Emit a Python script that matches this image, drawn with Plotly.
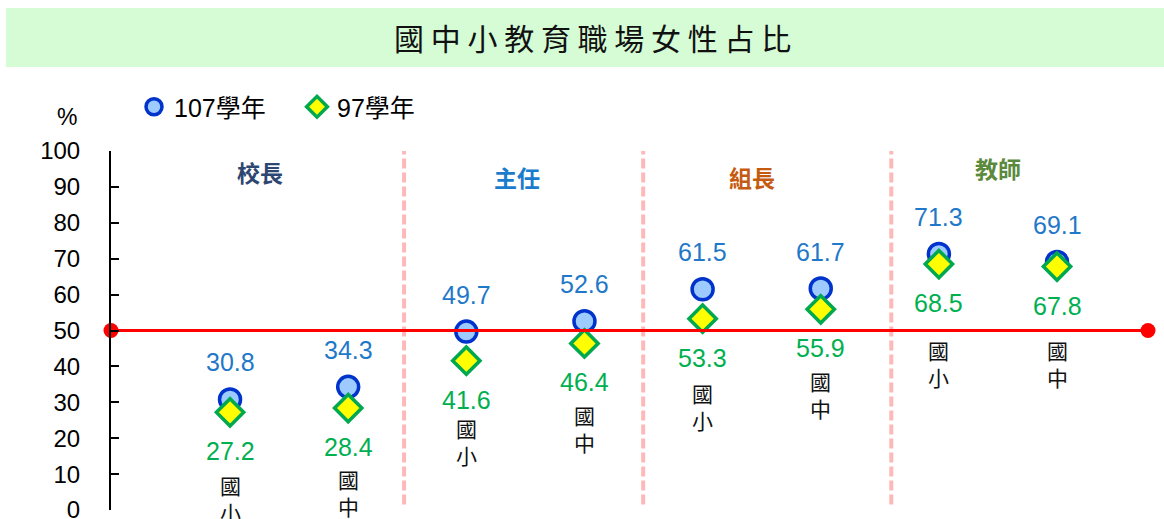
import plotly.graph_objects as go

# ---------------- data ----------------
groups = ["校長", "主任", "組長", "教師"]
levels = ["國小", "國中", "國小", "國中", "國小", "國中", "國小", "國中"]
y107 = [30.8, 34.3, 49.7, 52.6, 61.5, 61.7, 71.3, 69.1]
y97 = [27.2, 28.4, 41.6, 46.4, 53.3, 55.9, 68.5, 67.8]
series_names = ["107學年", "97學年"]
threshold = 50
yticks = [0, 10, 20, 30, 40, 50, 60, 70, 80, 90, 100]
title_text = "國中小教育職場女性占比"

# ---------------- styling / layout ----------------
W, H = 1164, 519
ML, MR, MT, MB = 111, 16, 151, 9
FONT = "Arial, 'Liberation Sans', 'Noto Sans CJK TC', sans-serif"
CJK = "'Noto Sans CJK TC', 'Noto Sans CJK SC', sans-serif"
BLUE_TXT = "#1f78c8"
GREEN_TXT = "#00b050"
XMIN, XMAX = -1.0076, 7.77

group_colors = ["#2e4672", "#1b7ccc", "#c55a11", "#5b8a3c"]
group_pos = [(0.254, 94.1), (2.431, 92.8), (4.42, 92.8), (6.5, 95.3)]
separators = [1.473, 3.497, 5.597]
cat_shift = [-86, -84, -81, -85, -88, -85, -99, -97]

x = list(range(len(levels)))

fig = go.Figure()
fig.add_trace(go.Scatter(
    x=x, y=y107, mode="markers", name=series_names[0],
    marker=dict(symbol="circle", size=21, color="#9dcbff",
                line=dict(color="#0033cc", width=3.5)),
    hoverinfo="y"))
fig.add_trace(go.Scatter(
    x=x, y=y97, mode="markers", name=series_names[1],
    marker=dict(symbol="diamond", size=21, color="#ffff00",
                line=dict(color="#00a84f", width=3.5)),
    hoverinfo="y"))
fig.add_trace(go.Scatter(
    x=[XMIN, XMAX], y=[threshold, threshold], mode="lines+markers",
    line=dict(color="#ff0000", width=3),
    marker=dict(size=15, color="#ff0000"),
    showlegend=False, hoverinfo="skip", cliponaxis=False))

shapes = [dict(type="rect", xref="paper", yref="paper",
               x0=(6 - ML) / (W - ML - MR), x1=(W - ML) / (W - ML - MR),
               y0=(H - MB - 67) / (H - MT - MB), y1=(H - MB - 8) / (H - MT - MB),
               fillcolor="#d5fcd5", line=dict(width=0), layer="below")]
for s in separators:
    shapes.append(dict(type="line", xref="x", yref="y", x0=s, x1=s, y0=1.5, y1=100,
                       line=dict(color="rgba(255,160,160,0.75)", width=4, dash="10px,4px"),
                       layer="below"))

ann = []
ann.append(dict(text=" ".join(title_text), xref="paper", yref="paper",
                x=(592 - ML) / (W - ML - MR), y=(H - MB - 37) / (H - MT - MB),
                showarrow=False, font=dict(family=CJK, size=30, color="#111111"),
                xanchor="center", yanchor="middle"))
ann.append(dict(text="%", xref="paper", yref="paper",
                x=(67 - ML) / (W - ML - MR), y=(H - MB - 117) / (H - MT - MB),
                showarrow=False, font=dict(family=FONT, size=23, color="#000000"),
                xanchor="center", yanchor="middle"))
for g, c, (gx, gy) in zip(groups, group_colors, group_pos):
    ann.append(dict(text=f"<b>{g}</b>", x=gx, y=gy, showarrow=False,
                    font=dict(family=CJK, size=23, color=c),
                    xanchor="center", yanchor="middle"))
for i, (a, b, lv, sh) in enumerate(zip(y107, y97, levels, cat_shift)):
    ann.append(dict(text=f"{a:.1f}", x=i, y=a, yshift=37, showarrow=False,
                    font=dict(family=FONT, size=25, color=BLUE_TXT),
                    xanchor="center", yanchor="middle"))
    ann.append(dict(text=f"{b:.1f}", x=i, y=b, yshift=-39, showarrow=False,
                    font=dict(family=FONT, size=25, color=GREEN_TXT),
                    xanchor="center", yanchor="middle"))
    ann.append(dict(text="<br>".join(lv), x=i, y=b, yshift=sh, showarrow=False,
                    font=dict(family=CJK, size=21, color="#111111"),
                    xanchor="center", yanchor="middle"))

fig.update_layout(
    width=W, height=H,
    margin=dict(l=ML, r=MR, t=MT, b=MB, autoexpand=False),
    plot_bgcolor="white", paper_bgcolor="white",
    font=dict(family=FONT, color="#000000"),
    showlegend=True,
    legend=dict(orientation="h", x=(134 - ML) / (W - ML - MR),
                y=(H - MB - 107) / (H - MT - MB), xanchor="left", yanchor="middle",
                font=dict(family=FONT, size=25, color="#000000"),
                bgcolor="rgba(0,0,0,0)", itemwidth=30, entrywidth=118,
                entrywidthmode="pixels"),
    xaxis=dict(visible=False, range=[XMIN, XMAX], fixedrange=True, automargin=False),
    yaxis=dict(range=[0, 100], tickvals=yticks, showgrid=False, zeroline=False,
               showline=True, linecolor="#000000", linewidth=2,
               ticks="inside", ticklen=8, tickwidth=2, tickcolor="#000000",
               tickfont=dict(family=FONT, size=24, color="#000000"),
               ticklabelstandoff=24, ticklabeloverflow="allow", automargin=False,
               fixedrange=True),
    shapes=shapes, annotations=ann,
)

fig.write_html("out.html", config={"displayModeBar": False},
               post_script="document.body.style.margin='0';document.body.style.overflow='hidden';")
